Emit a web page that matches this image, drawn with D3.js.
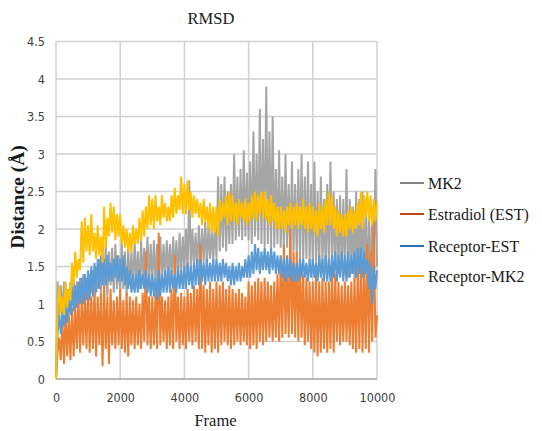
<!DOCTYPE html>
<html>
<head>
<meta charset="utf-8">
<script src="https://cdn.jsdelivr.net/npm/d3@7"></script>
<style>
  body { margin: 0; background: #fff; }
  svg { display: block; }
</style>
</head>
<body>
<div id="chart"></div>
<script>
// frames are sampled every 50 (0..10000)
const frameStep = 50;
const seriesNames = ["MK2", "Estradiol (EST)", "Receptor-EST", "Receptor-MK2"];
const xTicks = [0, 2000, 4000, 6000, 8000, 10000];
const yTicks = [0, 0.5, 1, 1.5, 2, 2.5, 3, 3.5, 4, 4.5];

const mk2 = [
  0, 1.3, 0.8, 1.25, 0.85, 1.3, 0.9, 1.2, 0.95, 1.3,
  1.0, 1.35, 0.95, 1.3, 1.05, 1.35, 1.0, 1.4, 1.1, 1.35,
  1.1, 1.4, 1.15, 1.45, 1.1, 1.5, 1.2, 1.6, 1.15, 1.75,
  1.2, 1.8, 1.1, 1.7, 1.25, 1.75, 1.15, 1.8, 1.2, 1.65,
  1.15, 1.8, 1.2, 1.7, 1.1, 1.75, 1.25, 1.7, 1.2, 1.85,
  1.25, 1.7, 1.2, 1.85, 1.3, 1.75, 1.25, 1.9, 1.3, 1.8,
  1.3, 1.85, 1.25, 1.8, 1.35, 1.9, 1.3, 1.8, 1.35, 1.85,
  1.4, 1.8, 1.35, 1.9, 1.4, 1.85, 1.35, 1.95, 1.4, 1.9,
  1.45, 2.0, 1.4, 2.65, 1.45, 2.0, 1.5, 1.95, 1.45, 2.05,
  1.5, 2.0, 1.55, 2.1, 1.5, 2.05, 1.6, 2.0, 1.55, 2.1,
  1.6, 2.7, 1.7, 2.6, 1.75, 2.7, 1.7, 2.5, 1.8, 2.6,
  1.8, 3.0, 1.85, 2.7, 1.9, 2.8, 1.85, 3.05, 1.9, 2.75,
  1.85, 2.9, 1.8, 3.3, 1.9, 3.0, 1.85, 3.6, 1.8, 3.2,
  1.75, 3.9, 1.8, 3.3, 1.7, 3.5, 1.75, 2.8, 1.8, 3.05,
  1.75, 2.7, 1.7, 3.0, 1.75, 2.6, 1.65, 2.9, 1.7, 2.6,
  1.65, 2.8, 1.6, 3.0, 1.55, 2.7, 1.6, 2.9, 1.55, 2.6,
  1.5, 2.9, 1.55, 2.5, 1.45, 2.7, 1.5, 2.4, 1.45, 2.6,
  1.5, 2.9, 1.45, 2.5, 1.5, 2.4, 1.4, 2.45, 1.45, 2.4,
  1.4, 2.8, 1.35, 2.4, 1.4, 2.3, 1.3, 2.5, 1.35, 2.4,
  1.3, 2.5, 1.25, 2.4, 1.0, 2.3, 1.1, 2.2, 1.4, 2.8,
  1.5
];

const estradiol = [
  0, 0.35, 0.55, 0.25, 0.8, 0.2, 0.9, 0.3, 0.85, 0.25,
  0.95, 0.3, 1.0, 0.4, 1.1, 0.35, 1.05, 0.45, 1.15, 0.4,
  1.2, 0.35, 1.1, 0.4, 1.2, 0.3, 1.1, 0.45, 1.15, 0.17,
  1.25, 0.4, 1.1, 0.2, 1.2, 0.45, 1.05, 0.4, 1.1, 0.45,
  1.2, 0.4, 1.05, 0.35, 1.15, 0.3, 1.1, 0.45, 1.05, 0.4,
  1.1, 0.45, 1.0, 0.4, 1.15, 0.5, 1.7, 0.45, 1.1, 0.4,
  1.1, 0.45, 1.15, 0.4, 1.95, 0.45, 1.1, 0.5, 1.05, 0.4,
  1.1, 0.45, 1.2, 0.4, 1.65, 0.5, 1.1, 0.4, 1.15, 0.45,
  1.1, 0.4, 1.2, 0.5, 1.15, 0.45, 1.25, 0.5, 1.2, 0.4,
  1.8, 0.4, 1.25, 0.35, 1.2, 0.45, 1.3, 0.35, 1.2, 0.4,
  1.3, 0.35, 1.25, 0.45, 1.3, 0.5, 1.2, 0.45, 1.25, 0.4,
  1.2, 0.45, 1.15, 0.5, 1.2, 0.45, 1.15, 0.5, 1.1, 0.45,
  1.3, 0.4, 1.25, 0.45, 1.3, 0.4, 1.35, 0.5, 1.3, 0.45,
  1.35, 0.5, 1.3, 0.55, 1.25, 0.5, 1.3, 0.55, 1.4, 0.5,
  1.6, 0.55, 1.8, 0.6, 1.5, 0.55, 2.0, 0.6, 1.7, 0.55,
  1.7, 0.5, 1.6, 0.55, 1.4, 0.45, 1.35, 0.5, 1.3, 0.4,
  1.3, 0.35, 1.4, 0.3, 1.3, 0.35, 1.35, 0.4, 1.3, 0.35,
  1.3, 0.4, 1.5, 0.35, 1.4, 0.5, 1.3, 0.45, 1.25, 0.5,
  1.3, 0.5, 1.25, 0.45, 1.3, 0.4, 1.35, 0.35, 1.45, 0.4,
  1.6, 0.35, 1.5, 0.4, 1.8, 0.35, 1.7, 0.5, 2.1, 0.55,
  0.85
];

const receptorEst = [
  0, 0.62, 0.85, 0.6, 0.9, 0.7, 1.0, 0.75, 1.05, 0.85,
  1.2, 0.9, 1.25, 0.95, 1.3, 1.0, 1.35, 1.0, 1.4, 1.05,
  1.45, 1.05, 1.5, 1.1, 1.55, 1.15, 1.6, 1.2, 1.65, 1.25,
  1.6, 1.25, 1.65, 1.3, 1.55, 1.3, 1.6, 1.35, 1.65, 1.3,
  1.6, 1.3, 1.65, 1.25, 1.5, 1.2, 1.45, 1.15, 1.4, 1.15,
  1.4, 1.15, 1.45, 1.2, 1.4, 1.2, 1.45, 1.15, 1.4, 1.1,
  1.4, 1.1, 1.35, 1.05, 1.45, 1.1, 1.4, 1.15, 1.45, 1.15,
  1.5, 1.15, 1.45, 1.2, 1.4, 1.15, 1.5, 1.2, 1.45, 1.2,
  1.5, 1.2, 1.55, 1.25, 1.5, 1.2, 1.55, 1.25, 1.6, 1.25,
  1.6, 1.3, 1.55, 1.25, 1.6, 1.3, 1.55, 1.3, 1.6, 1.3,
  1.6, 1.3, 1.55, 1.3, 1.6, 1.35, 1.55, 1.3, 1.5, 1.25,
  1.55, 1.25, 1.5, 1.3, 1.55, 1.3, 1.5, 1.35, 1.6, 1.35,
  1.65, 1.35, 1.7, 1.4, 1.8, 1.45, 1.75, 1.4, 1.7, 1.45,
  1.75, 1.45, 1.7, 1.4, 1.75, 1.45, 1.7, 1.4, 1.65, 1.4,
  1.65, 1.35, 1.6, 1.3, 1.65, 1.35, 1.6, 1.3, 1.55, 1.3,
  1.55, 1.3, 1.6, 1.35, 1.6, 1.35, 1.55, 1.3, 1.6, 1.35,
  1.6, 1.35, 1.55, 1.3, 1.65, 1.35, 1.6, 1.3, 1.65, 1.3,
  1.6, 1.3, 1.65, 1.35, 1.7, 1.3, 1.65, 1.35, 1.7, 1.3,
  1.65, 1.3, 1.7, 1.35, 1.65, 1.4, 1.7, 1.35, 1.75, 1.4,
  1.75, 1.35, 1.7, 1.4, 1.6, 1.2, 1.55, 1.0, 1.5, 1.2,
  1.45
];

const receptorMk2 = [
  0, 0.95, 1.25, 0.88, 1.1, 0.85, 1.3, 0.95, 1.2, 1.05,
  1.55, 1.25, 1.7, 1.35, 1.6, 1.45, 2.1, 1.55, 2.15, 1.7,
  2.05, 1.65, 2.2, 1.7, 1.95, 1.6, 2.05, 1.65, 1.9, 1.55,
  2.3, 1.75, 2.15, 1.9, 2.35, 1.95, 2.3, 1.85, 2.2, 1.9,
  2.2, 1.8, 2.05, 1.75, 2.0, 1.7, 1.95, 1.68, 2.05, 1.8,
  2.0, 1.8, 2.15, 1.85, 2.25, 1.9, 2.3, 2.0, 2.45, 2.05,
  2.4, 2.0, 2.45, 2.1, 2.3, 2.05, 2.45, 2.15, 2.35, 2.1,
  2.3, 2.1, 2.45, 2.15, 2.55, 2.2, 2.45, 2.25, 2.7, 2.2,
  2.6, 2.2, 2.65, 2.25, 2.5, 2.15, 2.45, 2.2, 2.4, 2.15,
  2.35, 2.05, 2.4, 2.1, 2.3, 2.0, 2.35, 1.95, 2.3, 1.95,
  2.3, 1.9, 2.4, 2.1, 2.35, 2.15, 2.45, 2.05, 2.5, 2.1,
  2.45, 2.1, 2.35, 2.05, 2.4, 2.15, 2.35, 2.1, 2.4, 2.05,
  2.35, 2.1, 2.45, 2.15, 2.5, 2.1, 2.45, 2.2, 2.5, 2.15,
  2.5, 2.1, 2.4, 2.05, 2.45, 2.1, 2.35, 2.0, 2.3, 2.0,
  2.3, 2.0, 2.25, 1.95, 2.3, 2.05, 2.35, 2.0, 2.3, 2.05,
  2.35, 2.0, 2.3, 2.05, 2.4, 2.0, 2.3, 1.95, 2.35, 2.0,
  2.3, 1.95, 2.25, 1.9, 2.35, 2.0, 2.3, 1.95, 2.4, 2.05,
  2.5, 2.05, 2.45, 2.0, 2.3, 1.9, 2.25, 1.95, 2.2, 1.9,
  2.2, 1.9, 2.25, 2.0, 2.3, 1.95, 2.25, 2.0, 2.35, 2.05,
  2.5, 2.0, 2.45, 2.15, 2.5, 2.1, 2.45, 2.05, 2.4, 2.1,
  2.35
];

const seriesColors = ["#a5a5a5", "#ed7d31", "#5b9bd5", "#ffc000"];
const legendColors = ["#7f7f7f", "#c0461b", "#2f6fb5", "#e9aa00"];

const W = 542, H = 431;
const plot = {left: 56, right: 377, top: 41.5, bottom: 379};

const svg = d3.select("#chart").append("svg")
    .attr("width", W)
    .attr("height", H);

const x = d3.scaleLinear().domain([0, 10000]).range([plot.left, plot.right]);
const y = d3.scaleLinear().domain([0, 4.5]).range([plot.bottom, plot.top]);

// gridlines
svg.append("g").selectAll("line")
    .data(yTicks)
    .join("line")
    .attr("x1", plot.left).attr("x2", plot.right)
    .attr("y1", d => y(d)).attr("y2", d => y(d))
    .attr("stroke", "#d0d0d0").attr("stroke-width", 1.5);

svg.append("g").selectAll("line")
    .data(xTicks)
    .join("line")
    .attr("x1", d => x(d)).attr("x2", d => x(d))
    .attr("y1", plot.top).attr("y2", plot.bottom)
    .attr("stroke", "#d0d0d0").attr("stroke-width", 1.5);

svg.append("line")
    .attr("x1", plot.left).attr("x2", plot.right)
    .attr("y1", plot.bottom).attr("y2", plot.bottom)
    .attr("stroke", "#acacac").attr("stroke-width", 1.5);

// series, drawn in Excel order
const allSeries = [mk2, estradiol, receptorEst, receptorMk2];
const line = d3.line()
    .x((d, i) => x(i * frameStep))
    .y(d => y(d));

svg.append("g").selectAll("path")
    .data(allSeries)
    .join("path")
    .attr("d", line)
    .attr("fill", "none")
    .attr("stroke", (d, i) => seriesColors[i])
    .attr("stroke-width", 2)
    .attr("stroke-linejoin", "miter");

// axes
const tickFont = "Liberation Sans Narrow, DejaVu Sans Condensed, Liberation Sans, sans-serif";

svg.append("g")
    .attr("transform", "translate(" + plot.left + ",0)")
    .call(d3.axisLeft(y).tickValues(yTicks).tickSize(0).tickPadding(11).tickFormat(d3.format("")));
svg.append("g")
    .attr("transform", "translate(0," + plot.bottom + ")")
    .call(d3.axisBottom(x).tickValues(xTicks).tickSize(0).tickPadding(14).tickFormat(d3.format("d")));

svg.selectAll(".domain").remove();
svg.selectAll(".tick text")
    .attr("font-family", tickFont)
    .attr("font-size", 12.5)
    .attr("fill", "#404040");

const serif = "Liberation Serif, Noto Serif, DejaVu Serif, Times New Roman, serif";

svg.append("text")
    .attr("x", 211).attr("y", 24)
    .attr("text-anchor", "middle")
    .attr("font-family", serif).attr("font-size", 16.5)
    .attr("fill", "#1a1a1a")
    .text("RMSD");

svg.append("text")
    .attr("x", 215.5).attr("y", 426)
    .attr("text-anchor", "middle")
    .attr("font-family", serif).attr("font-size", 16.5)
    .attr("fill", "#1a1a1a")
    .text("Frame");

svg.append("text")
    .attr("transform", "translate(24,197) rotate(-90)")
    .attr("text-anchor", "middle")
    .attr("font-family", serif).attr("font-size", 19.5).attr("font-weight", "bold")
    .attr("fill", "#1a1a1a")
    .text("Distance (Å)");

// legend
const legendY = [183, 214, 246, 276];
const legend = svg.append("g");
seriesNames.forEach((name, i) => {
    legend.append("line")
        .attr("x1", 400).attr("x2", 424)
        .attr("y1", legendY[i]).attr("y2", legendY[i])
        .attr("stroke", legendColors[i]).attr("stroke-width", 2);
    legend.append("text")
        .attr("x", 428).attr("y", legendY[i] + 5.5)
        .attr("font-family", serif).attr("font-size", 16)
        .attr("fill", "#1a1a1a")
        .text(name);
});
</script>
</body>
</html>
